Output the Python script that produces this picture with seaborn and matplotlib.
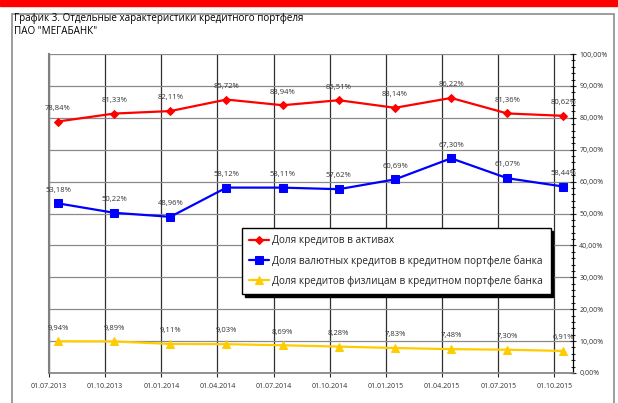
import matplotlib
matplotlib.use("Agg")
import matplotlib.pyplot as plt
import matplotlib.patches as mpatches
from matplotlib.ticker import MultipleLocator, FuncFormatter
import numpy as np
import pandas as pd
import seaborn as sns

dates = ["01.07.2013", "01.10.2013", "01.01.2014", "01.04.2014", "01.07.2014",
         "01.10.2014", "01.01.2015", "01.04.2015", "01.07.2015", "01.10.2015"]
loans_in_assets = [78.84, 81.33, 82.11, 85.72, 83.94, 85.51, 83.14, 86.22, 81.36, 80.62]
fx_loans = [53.18, 50.22, 48.96, 58.12, 58.11, 57.62, 60.69, 67.30, 61.07, 58.44]
retail_loans = [9.94, 9.89, 9.11, 9.03, 8.69, 8.28, 7.83, 7.48, 7.30, 6.91]

series_names = [
    "Доля кредитов в активах",
    "Доля валютных кредитов в кредитном портфеле банка",
    "Доля кредитов физлицам в кредитном портфеле банка",
]

sns.set_style("white")
plt.rcParams["font.family"] = ["Open Sans", "DejaVu Sans"]

fig = plt.figure(figsize=(6.18, 4.03), dpi=100)

# outer frame and red strip, like the source report
fig.patches.append(mpatches.Rectangle((0, 1 - 6 / 403), 1, 6 / 403, transform=fig.transFigure,
                                      color="#ff0000", zorder=0))
fig.patches.append(mpatches.Rectangle((12 / 618, -0.02), 602 / 618, 1 - 14 / 403 + 0.02,
                                      transform=fig.transFigure, fill=False,
                                      edgecolor="#8c8c8c", lw=1.2, zorder=0))
fig.text(14 / 618, 1 - 13 / 403, "График 3. Отдельные характеристики кредитного портфеля\nПАО \"МЕГАБАНК\"",
         ha="left", va="top", fontsize=7.1, color="#000000", linespacing=1.25)

ax = fig.add_axes([49 / 618, 30 / 403, 524 / 618, 319 / 403])

offset = 0.16
df = pd.DataFrame({
    "pos": np.arange(len(dates)) + offset,
    series_names[0]: loans_in_assets,
    series_names[1]: fx_loans,
    series_names[2]: retail_loans,
})

styles = [("#ff0000", "D", 4), ("#0000ff", "s", 5.5), ("#ffcc00", "^", 5.5)]
for name, (color, marker, ms) in zip(series_names, styles):
    sns.lineplot(data=df, x="pos", y=name, ax=ax, color=color, marker=marker,
                 markersize=ms, markeredgecolor=color, lw=1.6, label=name)
    for x, y in zip(df["pos"], df[name]):
        ax.annotate(f"{y:.2f}%".replace(".", ","), (x, y), xytext=(0, 7),
                    textcoords="offset points", ha="center", va="bottom",
                    fontsize=5.5, color="#333333")

ax.set_xlim(0, 9.33)
ax.set_ylim(0, 100)
ax.set_xticks(range(len(dates)))
ax.set_xticklabels(dates, fontsize=5, color="#333333")
ax.yaxis.tick_right()
ax.yaxis.set_major_locator(MultipleLocator(10))
ax.yaxis.set_minor_locator(MultipleLocator(2))
ax.yaxis.set_major_formatter(FuncFormatter(lambda v, _: f"{v:.2f}%".replace(".", ",")))
ax.tick_params(axis="y", which="major", direction="inout", length=5, width=0.8,
               labelsize=5, labelcolor="#333333", pad=2, right=True)
ax.tick_params(axis="y", which="minor", direction="inout", length=3, width=0.8, right=True)
ax.tick_params(axis="x", direction="out", length=3, width=0.8, pad=4, bottom=True)
ax.set_xlabel("")
ax.set_ylabel("")

ax.grid(True, axis="y", color="#8a8a8a", lw=0.9)
ax.grid(True, axis="x", color="#303030", lw=0.9)
ax.set_axisbelow(True)
ax.spines["top"].set_visible(False)
ax.spines["left"].set_color("#808080")
ax.spines["left"].set_linewidth(1.5)
ax.spines["bottom"].set_color("#808080")
ax.spines["bottom"].set_linewidth(1.2)
ax.spines["right"].set_color("black")
ax.spines["right"].set_linewidth(0.9)

leg = ax.legend(loc="upper left", bbox_to_anchor=(0.368, 0.455), fontsize=7.2,
                frameon=True, fancybox=False, edgecolor="black", framealpha=1,
                shadow={"color": "black", "alpha": 1}, handlelength=2.0,
                borderpad=0.75, labelspacing=0.85, handletextpad=0.3, borderaxespad=0)
leg.get_frame().set_linewidth(1.0)

fig.savefig("out.png", dpi=100)
